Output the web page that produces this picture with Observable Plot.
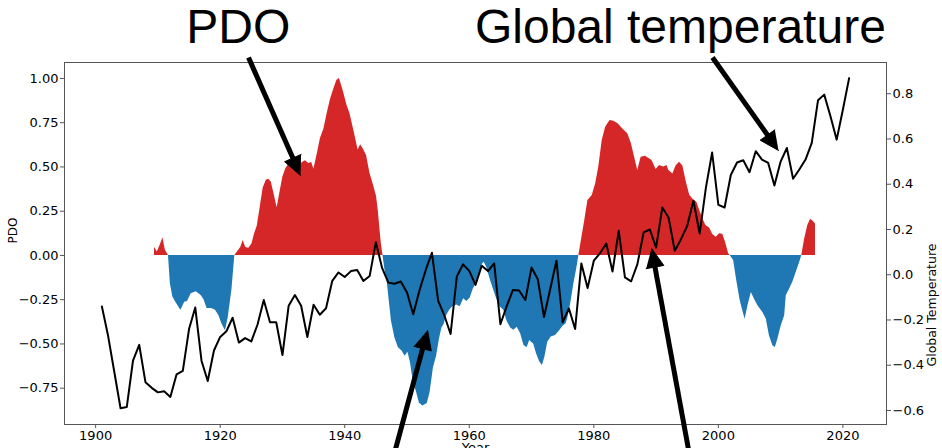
<!DOCTYPE html>
<html>
<head>
<meta charset="utf-8">
<script src="https://cdn.jsdelivr.net/npm/d3@7"></script>
<script src="https://cdn.jsdelivr.net/npm/@observablehq/plot@0.6"></script>
<style>
  html, body { margin: 0; padding: 0; background: #fff; }
</style>
</head>
<body>
<div id="chart"></div>
<script>
// ---------- DATA ----------
const tempYears = [1901,1902,1903,1904,1905,1906,1907,1908,1909,1910,1911,1912,1913,1914,1915,1916,1917,1918,1919,1920,
  1921,1922,1923,1924,1925,1926,1927,1928,1929,1930,1931,1932,1933,1934,1935,1936,1937,1938,1939,1940,
  1941,1942,1943,1944,1945,1946,1947,1948,1949,1950,1951,1952,1953,1954,1955,1956,1957,1958,1959,1960,
  1961,1962,1963,1964,1965,1966,1967,1968,1969,1970,1971,1972,1973,1974,1975,1976,1977,1978,1979,1980,
  1981,1982,1983,1984,1985,1986,1987,1988,1989,1990,1991,1992,1993,1994,1995,1996,1997,1998,1999,2000,
  2001,2002,2003,2004,2005,2006,2007,2008,2009,2010,2011,2012,2013,2014,2015,2016,2017,2018,2019,2020,2021];
const tempValues = [-0.14,-0.27,-0.43,-0.59,-0.585,-0.38,-0.31,-0.475,-0.50,-0.52,-0.515,-0.54,-0.44,-0.425,-0.24,-0.145,-0.38,-0.47,-0.335,-0.275,
  -0.25,-0.19,-0.30,-0.28,-0.295,-0.22,-0.112,-0.21,-0.21,-0.355,-0.137,-0.09,-0.137,-0.275,-0.133,-0.177,-0.148,-0.027,0.01,-0.01,
  0.016,0.021,-0.028,-0.006,0.144,0.03,-0.035,-0.04,-0.03,-0.079,-0.175,-0.07,0.02,0.097,-0.115,-0.18,-0.262,-0.008,0.046,0.017,
  -0.045,0.04,0.016,0.05,-0.219,-0.14,-0.068,-0.07,-0.112,0.032,-0.02,-0.187,-0.063,0.062,-0.21,-0.149,-0.24,0.05,-0.059,0.062,
  0.095,0.138,0.014,0.194,-0.012,-0.029,0.047,0.187,0.20,0.12,0.297,0.253,0.106,0.157,0.216,0.327,0.182,0.385,0.54,0.309,
  0.297,0.441,0.496,0.506,0.453,0.546,0.509,0.494,0.394,0.50,0.56,0.424,0.465,0.509,0.583,0.771,0.796,0.70,0.597,0.73,0.869];

const pdoYears = [1909.45,1909.9,1910.4,1910.8,1911.2,1911.7,1912.0,1912.4,1912.8,1913.5,1913.7,1914.3,1914.75,1915.35,1916.15,1916.95,1917.4,1917.9,1918.6,1919.25,
  1919.8,1920.3,1920.85,1921.3,1921.9,1922.35,1922.7,1923.3,1923.7,1924.1,1924.6,1925.1,1925.5,1925.95,1926.4,1926.9,1927.4,1927.8,1928.2,1928.6,
  1929.15,1929.5,1930.05,1930.5,1931.0,1931.55,1932.1,1932.6,1933.2,1933.7,1934.2,1934.7,1935.05,1935.6,1936.1,1936.65,1937.2,1937.7,1938.25,1938.75,
  1939.15,1939.75,1940.35,1940.85,1941.6,1942.15,1942.55,1943.0,1943.5,1944.05,1944.6,1945.1,1945.4,1945.65,1945.9,1946.15,1946.45,1946.8,1947.1,1947.5,
  1948.05,1948.6,1949.2,1949.7,1950.15,1950.55,1951.0,1951.55,1952.0,1952.55,1953.25,1953.7,1954.25,1954.75,1955.2,1955.6,1955.95,1956.35,1956.85,1957.35,
  1958.0,1958.55,1959.1,1959.6,1960.15,1960.65,1961.1,1961.55,1962.1,1962.4,1962.8,1963.4,1963.95,1964.55,1965.0,1965.55,1966.05,1966.65,1967.15,1967.7,
  1968.25,1968.8,1969.3,1969.7,1970.0,1970.35,1970.8,1971.3,1971.75,1972.15,1972.6,1973.15,1973.85,1974.45,1975.05,1975.55,1975.85,1976.3,1976.8,1977.3,
  1977.6,1978.0,1978.55,1979.05,1979.75,1980.3,1980.8,1981.35,1981.9,1982.6,1983.2,1983.9,1984.65,1985.45,1986.0,1986.55,1987.05,1987.6,1988.3,1989.35,
  1990.0,1990.55,1991.2,1991.75,1992.05,1992.7,1993.2,1993.75,1994.3,1994.85,1995.4,1996.0,1996.55,1996.85,1997.5,1998.0,1998.6,1999.1,1999.65,2000.2,
  2000.7,2001.15,2001.65,2001.9,2002.45,2002.95,2003.5,2004.05,2004.3,2004.75,2005.3,2005.8,2006.35,2007.15,2007.7,2008.2,2008.75,2009.15,2009.55,2010.1,
  2010.65,2010.9,2011.45,2011.95,2012.5,2013.05,2013.4,2013.85,2014.35,2014.8,2015.15,2015.6];
const pdoValues = [0.047,0.02,0.06,0.10,0.03,0,-0.16,-0.235,-0.26,-0.30,-0.31,-0.265,-0.26,-0.216,-0.205,-0.226,-0.25,-0.30,-0.30,-0.31,
  -0.34,-0.388,-0.425,-0.35,-0.19,0,0.017,0.045,0.084,0.045,0.04,0.064,0.12,0.165,0.265,0.38,0.425,0.43,0.415,0.356,
  0.27,0.337,0.44,0.487,0.515,0.506,0.52,0.50,0.525,0.535,0.52,0.525,0.487,0.575,0.66,0.713,0.805,0.88,0.94,0.99,
  1.0,0.93,0.85,0.80,0.685,0.595,0.625,0.60,0.565,0.465,0.40,0.335,0.25,0.15,0.06,0,-0.08,-0.14,-0.24,-0.37,
  -0.465,-0.52,-0.54,-0.57,-0.547,-0.605,-0.71,-0.774,-0.835,-0.85,-0.837,-0.775,-0.635,-0.57,-0.475,-0.41,-0.39,-0.34,-0.31,-0.29,
  -0.28,-0.29,-0.245,-0.26,-0.24,-0.19,-0.16,-0.12,-0.05,-0.038,-0.066,-0.14,-0.198,-0.26,-0.292,-0.31,-0.37,-0.41,-0.423,-0.405,
  -0.442,-0.51,-0.52,-0.48,-0.49,-0.50,-0.555,-0.60,-0.621,-0.574,-0.49,-0.461,-0.452,-0.428,-0.40,-0.386,-0.35,-0.27,-0.16,-0.066,
  0,0.085,0.198,0.31,0.339,0.405,0.499,0.65,0.724,0.762,0.758,0.744,0.715,0.687,0.635,0.555,0.48,0.555,0.56,0.536,
  0.485,0.508,0.499,0.508,0.48,0.46,0.505,0.527,0.505,0.415,0.34,0.315,0.30,0.27,0.207,0.169,0.155,0.118,0.103,0.122,
  0.12,0.075,0.01,0,-0.028,-0.141,-0.254,-0.33,-0.36,-0.284,-0.209,-0.247,-0.284,-0.322,-0.36,-0.453,-0.51,-0.52,-0.473,-0.397,
  -0.34,-0.228,-0.19,-0.152,-0.096,-0.04,0,0.092,0.168,0.205,0.196,0.177];

const xTicks = [1900, 1920, 1940, 1960, 1980, 2000, 2020];
const pdoTicks = [-0.75, -0.5, -0.25, 0, 0.25, 0.5, 0.75, 1.0];
const tempTicks = [-0.6, -0.4, -0.2, 0.0, 0.2, 0.4, 0.6, 0.8];

// annotations (in year / PDO-axis units)
const titleTexts = ["PDO", "Global temperature"];
const titleYears = [1922.9, 1993.9];
const arrowX1 = [1924.55, 1999.06, 1947.67, 1995.53];
const arrowY1 = [1.118, 1.118, -1.158, -1.158];
const arrowX2 = [1932.9, 2009.66, 1953.3, 1989.27];
const arrowY2 = [0.452, 0.593, -0.423, 0.04];

// ---------- LAYOUT ----------
const W = 942, H = 448, ML = 64, MR = 56, MT = 62, MB = 24;
const xDomain = [1895, 2027];
const pdoDomain = [-0.955, 1.09];
const tempDomain = [-0.662, 0.938];
const RED = "#d62728", BLUE = "#1f77b4";

const t2p = d3.scaleLinear(tempDomain, pdoDomain);   // temperature -> PDO axis units
const pdo = pdoYears.map((year, i) => ({year, v: pdoValues[i]}));
const temp = tempYears.map((year, i) => ({year, t: tempValues[i]}));

// arrow geometry (computed in pixel space with the same linear mapping as the plot)
const xs = d3.scaleLinear(xDomain, [ML, W - MR]);
const ys = d3.scaleLinear(pdoDomain, [H - MB, MT]);
const HEAD_LEN = 19, HW = 9;
const shafts = [], heads = [];
arrowX1.forEach((_, i) => {
  const sx = xs(arrowX1[i]), sy = ys(arrowY1[i]);
  const tx = xs(arrowX2[i]), ty = ys(arrowY2[i]);
  const L = Math.hypot(tx - sx, ty - sy), ux = (tx - sx) / L, uy = (ty - sy) / L;
  const bx = tx - ux * HEAD_LEN, by = ty - uy * HEAD_LEN;
  shafts.push({x1: arrowX1[i], y1: arrowY1[i], x2: xs.invert(bx + ux * 3), y2: ys.invert(by + uy * 3)});
  heads.push({id: i, x: arrowX2[i], y: arrowY2[i]});
  heads.push({id: i, x: xs.invert(bx - uy * HW), y: ys.invert(by + ux * HW)});
  heads.push({id: i, x: xs.invert(bx + uy * HW), y: ys.invert(by - ux * HW)});
});

const fmtTemp = d => d3.format(".1f")(Math.round(t2p.invert(d) * 10) / 10 + 0);

const chart = Plot.plot({
  width: W, height: H,
  marginLeft: ML, marginRight: MR, marginTop: MT, marginBottom: MB,
  style: {fontFamily: "'DejaVu Sans', sans-serif", fontSize: "13px", color: "black", background: "white"},
  x: {domain: xDomain},
  y: {domain: pdoDomain},
  marks: [
    Plot.areaY(pdo, {x: "year", y1: 0, y2: d => Math.max(0, d.v), fill: RED}),
    Plot.areaY(pdo, {x: "year", y1: 0, y2: d => Math.min(0, d.v), fill: BLUE}),
    Plot.line(temp, {x: "year", y: d => t2p(d.t), stroke: "black", strokeWidth: 2}),
    Plot.frame({stroke: "#555", strokeWidth: 1}),
    Plot.axisY({anchor: "left", ticks: pdoTicks, tickFormat: d3.format(".2f"), tickSize: 4, tickPadding: 2, label: null, stroke: "#555", fill: "black"}),
    Plot.axisY({anchor: "right", ticks: tempTicks.map(t2p), tickFormat: fmtTemp, tickSize: 4, tickPadding: 2, label: null, stroke: "#555", fill: "black"}),
    Plot.axisX({ticks: xTicks, tickFormat: d => String(d), tickSize: 4, tickPadding: 2, label: null, stroke: "#555", fill: "black"}),
    Plot.text(["PDO"], {frameAnchor: "left", dx: -51, rotate: -90, text: d => d, fontSize: 12, fill: "black"}),
    Plot.text(["Global Temperature"], {frameAnchor: "right", dx: 45.5, rotate: -90, text: d => d, fontSize: 12.5, fill: "black"}),
    Plot.text(["Year"], {frameAnchor: "bottom", dy: 18, lineAnchor: "top", text: d => d, fontSize: 13, fill: "black"}),
    Plot.text(titleTexts, {x: (d, i) => titleYears[i], text: d => d, frameAnchor: "top", dy: -35, lineAnchor: "middle",
      fontSize: 48, fontFamily: "'Liberation Sans', Arial, sans-serif", fill: "black"}),
    Plot.link(shafts, {x1: "x1", y1: "y1", x2: "x2", y2: "y2", stroke: "black", strokeWidth: 5, strokeLinecap: "butt"}),
    Plot.line(heads, {x: "x", y: "y", z: "id", fill: "black", stroke: "black", strokeWidth: 1, strokeLinejoin: "miter"})
  ]
});
document.getElementById("chart").appendChild(chart);
</script>
</body>
</html>
